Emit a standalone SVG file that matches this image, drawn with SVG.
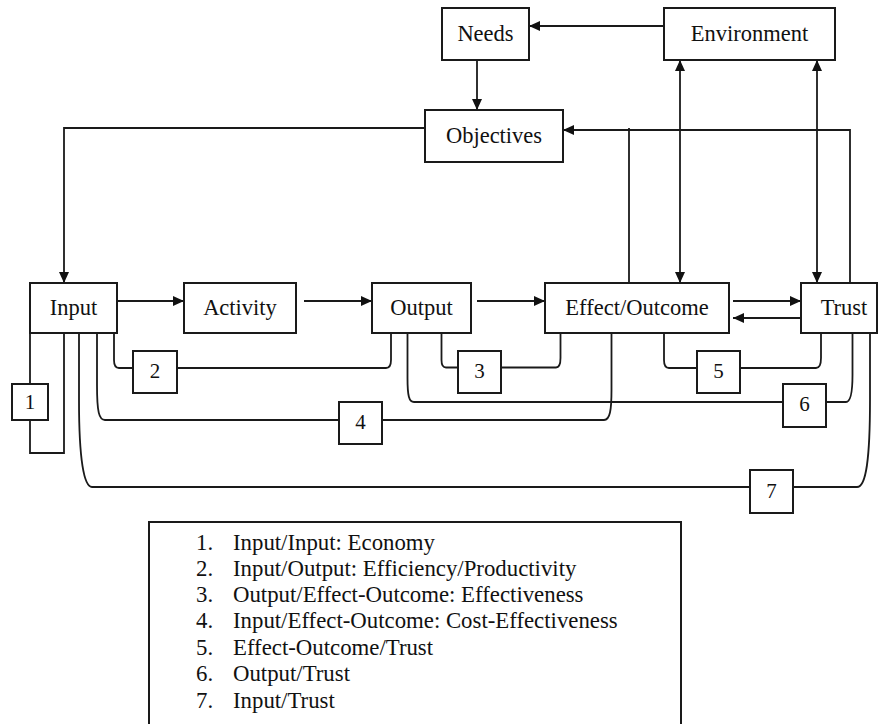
<svg xmlns="http://www.w3.org/2000/svg" width="878" height="724" viewBox="0 0 878 724">
<defs>
<marker id="ah" viewBox="0 0 11 10" markerUnits="userSpaceOnUse" markerWidth="11" markerHeight="10" refX="11" refY="5" orient="auto-start-reverse">
<path d="M0,0 L11,5 L0,10 z" fill="#111"/>
</marker>
<style>
.box{fill:#fff;stroke:#1a1a1a;stroke-width:2}
.ln{fill:none;stroke:#1a1a1a;stroke-width:1.8}
.t{font-family:'Liberation Serif','Times New Roman',Times,'DejaVu Serif',serif;font-size:22.5px;fill:#111;text-anchor:middle}
.n{font-family:'Liberation Serif','Times New Roman',Times,'DejaVu Serif',serif;font-size:21px;fill:#111;text-anchor:middle}
.lg{font-family:'Liberation Serif','Times New Roman',Times,'DejaVu Serif',serif;font-size:22.8px;fill:#111}
</style>
</defs>
<rect width="878" height="724" fill="#fff"/>

<g id="connectors">
<line class="ln" x1="664" y1="26" x2="529" y2="26" marker-end="url(#ah)"/>
<line class="ln" x1="477" y1="60" x2="477" y2="110" marker-end="url(#ah)"/>
<path class="ln" d="M425,128 H64 V283" marker-end="url(#ah)"/>
<path class="ln" d="M850,283 V130 H563" marker-end="url(#ah)"/>
<path class="ln" d="M629,283 V128"/>
<line class="ln" x1="680" y1="60" x2="680" y2="283" marker-start="url(#ah)" marker-end="url(#ah)"/>
<line class="ln" x1="817" y1="60" x2="817" y2="283" marker-start="url(#ah)" marker-end="url(#ah)"/>
<line class="ln" x1="117" y1="301" x2="184" y2="301" marker-end="url(#ah)"/>
<line class="ln" x1="304" y1="301" x2="372" y2="301" marker-end="url(#ah)"/>
<line class="ln" x1="477" y1="301" x2="545" y2="301" marker-end="url(#ah)"/>
<line class="ln" x1="733" y1="301" x2="801" y2="301" marker-end="url(#ah)"/>
<line class="ln" x1="801" y1="318" x2="733" y2="318" marker-end="url(#ah)"/>

<path class="ln" d="M30,333 V384 M30,420 V453 H64 V333"/>
<path class="ln" d="M114,333 V360 Q114,368 119,368 H133 M177,368 H386 Q391,368 391,360 V333"/>
<path class="ln" d="M441.5,333 V360 Q441.5,367.5 446,367.5 H458 M501,367.5 H556 Q560.5,367.5 560.5,358 V333"/>
<path class="ln" d="M97,333 V385 C97,412 99,420 105,420 H339 M382,420 H604 C610,420 611.5,410 611.5,390 V333"/>
<path class="ln" d="M664,333 V360 Q664,368 669,368 H697 M740,368 H816 Q821,368 821,358 V333"/>
<path class="ln" d="M407.5,333 V378 C407.5,396 409,402 414,402 H783 M826,402 H846 C851,402 852.5,392 852.5,375 V333"/>
<path class="ln" d="M79,333 V400 C79,460 84,487 92,487 H750 M793,487 H857 C866,487 870,460 870,400 V333"/>
</g>

<g id="needs"><rect class="box" x="442" y="8" width="87" height="52"/><text class="t" x="485.5" y="41">Needs</text></g>
<g id="environment"><rect class="box" x="664" y="8" width="171" height="52"/><text class="t" x="749.5" y="41">Environment</text></g>
<g id="objectives"><rect class="box" x="425" y="110" width="138" height="52"/><text class="t" x="494" y="142.5">Objectives</text></g>
<g id="input"><rect class="box" x="30" y="283" width="87" height="50"/><text class="t" x="73.5" y="314.5">Input</text></g>
<g id="activity"><rect class="box" x="184" y="283" width="112" height="50"/><text class="t" x="240" y="314.5">Activity</text></g>
<g id="output"><rect class="box" x="372" y="283" width="99" height="50"/><text class="t" x="421.5" y="314.5">Output</text></g>
<g id="effect-outcome"><rect class="box" x="545" y="283" width="184" height="50"/><text class="t" x="637" y="314.5">Effect/Outcome</text></g>
<g id="trust"><rect class="box" x="801" y="283" width="76" height="50"/><text class="t" x="844" y="314.5">Trust</text></g>

<g id="m1"><rect class="box" x="12" y="384" width="36" height="36"/><text class="n" x="30" y="409">1</text></g>
<g id="m2"><rect class="box" x="133" y="351" width="44" height="42"/><text class="n" x="155" y="377.5">2</text></g>
<g id="m3"><rect class="box" x="458" y="351" width="43" height="42"/><text class="n" x="479.5" y="377.5">3</text></g>
<g id="m4"><rect class="box" x="339" y="402" width="43" height="42"/><text class="n" x="360.5" y="428.5">4</text></g>
<g id="m5"><rect class="box" x="697" y="351" width="43" height="42"/><text class="n" x="718.5" y="377.5">5</text></g>
<g id="m6"><rect class="box" x="783" y="384" width="43" height="43"/><text class="n" x="804.5" y="411">6</text></g>
<g id="m7"><rect class="box" x="750" y="470" width="43" height="43"/><text class="n" x="771.5" y="497.5">7</text></g>

<g id="legend">
<rect class="box" x="149" y="522" width="532" height="220"/>
<text class="lg" x="196" y="549.5">1.</text><text class="lg" x="233" y="549.5">Input/Input: Economy</text>
<text class="lg" x="196" y="576">2.</text><text class="lg" x="233" y="576">Input/Output: Efficiency/Productivity</text>
<text class="lg" x="196" y="602">3.</text><text class="lg" x="233" y="602">Output/Effect-Outcome: Effectiveness</text>
<text class="lg" x="196" y="628">4.</text><text class="lg" x="233" y="628">Input/Effect-Outcome: Cost-Effectiveness</text>
<text class="lg" x="196" y="654.5">5.</text><text class="lg" x="233" y="654.5">Effect-Outcome/Trust</text>
<text class="lg" x="196" y="681">6.</text><text class="lg" x="233" y="681">Output/Trust</text>
<text class="lg" x="196" y="707.5">7.</text><text class="lg" x="233" y="707.5">Input/Trust</text>
</g>
</svg>
